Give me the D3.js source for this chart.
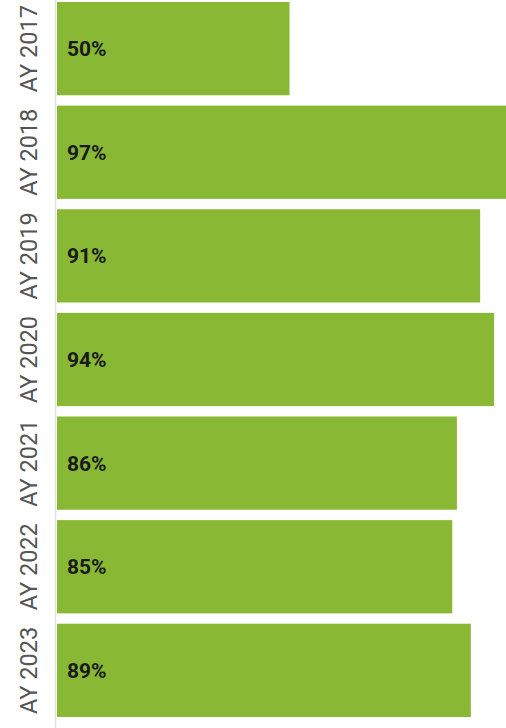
<!DOCTYPE html>
<html>
<head>
<meta charset="utf-8">
<script src="https://cdn.jsdelivr.net/npm/d3@7"></script>
<style>
  body { margin: 0; background: #fff; }
  svg { display: block; }
</style>
</head>
<body>
<svg id="chart" width="506" height="728"></svg>
<script>
// data
const years = ['AY 2017', 'AY 2018', 'AY 2019', 'AY 2020', 'AY 2021', 'AY 2022', 'AY 2023'];
const rates = [50, 97, 91, 94, 86, 85, 89];

const svg = d3.select('#chart');
const plotLeft = 57, plotTop = 2, plotBottom = 717;

// x: percentage to pixels
const x = d3.scaleLinear()
  .domain([0, 100])
  .range([plotLeft, plotLeft + 465]);

// y: one band per year
const y = d3.scaleBand()
  .domain(years)
  .range([plotTop, plotBottom])
  .paddingInner(0.1)
  .paddingOuter(0.0);

// left axis line
svg.append('line')
  .attr('x1', plotLeft - 1.5).attr('x2', plotLeft - 1.5)
  .attr('y1', 0).attr('y2', 728)
  .attr('stroke', '#e2e2e2')
  .attr('stroke-width', 1.5);

// bars
svg.selectAll('.bar')
  .data(rates)
  .join('rect')
  .attr('class', 'bar')
  .attr('x', x(0))
  .attr('y', (d, i) => y(years[i]))
  .attr('width', d => x(d) - x(0))
  .attr('height', y.bandwidth())
  .attr('fill', '#88b834');

// value labels
svg.selectAll('.val')
  .data(rates)
  .join('text')
  .attr('class', 'val')
  .attr('x', x(0) + 10)
  .attr('y', (d, i) => y(years[i]) + y.bandwidth() / 2)
  .attr('dy', '0.36em')
  .attr('font-family', 'Roboto, sans-serif')
  .attr('font-weight', 'bold')
  .attr('font-size', 21)
  .attr('fill', '#1a1a1a')
  .text(d => d + '%');

// rotated year labels
svg.selectAll('.cat')
  .data(years)
  .join('text')
  .attr('class', 'cat')
  .attr('transform', d => `translate(37,${y(d) + y.bandwidth() / 2}) rotate(-90)`)
  .attr('text-anchor', 'middle')
  .attr('font-family', 'Roboto, sans-serif')
  .attr('font-size', 23.5)
  .attr('fill', '#555')
  .text(d => d);
</script>
</body>
</html>
